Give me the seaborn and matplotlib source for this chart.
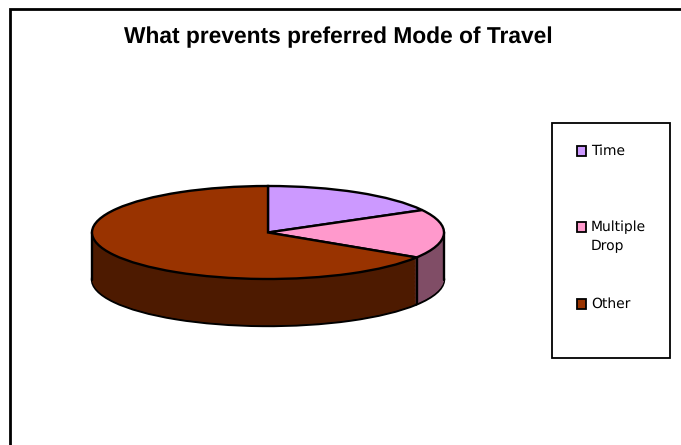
import matplotlib
matplotlib.use("Agg")
import matplotlib.pyplot as plt
from matplotlib.patches import Rectangle
import numpy as np
import seaborn as sns

title = "What prevents preferred Mode of Travel"
categories = ["Time", "Multiple\nDrop", "Other"]
values = [17, 17, 66]
top_colors = ["#CC99FF", "#FF99CC", "#993300"]
side_colors = ["#664D80", "#804D66", "#4D1A00"]
legend_y = [151, 227, 304]

sns.set_theme(style="white")
plt.rcParams["text.hinting"] = "none"
W, H = 681, 445
fig = plt.figure(figsize=(W / 100, H / 100), dpi=100, facecolor="white")

# Pie axes: x in pixels, y stretched so that the circular pie flattens into an ellipse
cx, cy, rx, ry, depth = 268, 232.5, 176, 46.5, 47
k = rx / ry
ax = fig.add_axes([0, 0, 1, 1])
ax.set_axis_off()
C = (cx, (H - cy) * k)
D = depth * k
edge = dict(edgecolor="black", linewidth=1.7)

# Bottom rim with outline, then the solid body, then the top face
ax.pie(values, colors=sns.color_palette(side_colors), startangle=90, counterclock=False,
       radius=rx, center=(C[0], C[1] - D), wedgeprops=edge, frame=False)
for off in np.linspace(D, 0, 60)[1:-1]:
    ax.pie(values, colors=sns.color_palette(side_colors), startangle=90, counterclock=False,
           radius=rx, center=(C[0], C[1] - off), wedgeprops=dict(linewidth=0), frame=False)

# Vertical edges of the cylinder and of the slice boundary visible on the wall
bound = np.deg2rad(90 - 360 * np.cumsum(values)[1] / sum(values))
for x, y in [(cx - rx, C[1]), (cx + rx, C[1]),
             (cx + rx * np.cos(bound), C[1] + rx * np.sin(bound))]:
    ax.plot([x, x], [y, y - D], color="black", lw=1.7, solid_capstyle="round", zorder=5)

ax.pie(values, colors=sns.color_palette(top_colors), startangle=90, counterclock=False,
       radius=rx, center=C, wedgeprops=dict(zorder=6, **edge), frame=False)
ax.set_aspect("auto")
ax.set_xlim(0, W)
ax.set_ylim(0, H * k)

# Overlay in pixel coordinates for frame, title and legend
ov = fig.add_axes([0, 0, 1, 1], facecolor="none")
ov.set_axis_off()
ov.set_xlim(0, W)
ov.set_ylim(H, 0)
ov.plot([10, 10, W], [H, 8.5, 8.5], color="black", lw=2.0, solid_joinstyle="miter")
ov.text(338, 37, title, ha="center", va="center", fontsize=16.4, fontweight="bold",
        family="Liberation Sans", color="black")
ov.add_patch(Rectangle((552, 123), 118, 235, fc="white", ec="black", lw=1.3))
for lab, col, y in zip(categories, top_colors, legend_y):
    ov.add_patch(Rectangle((576.5, y - 5), 9.5, 10, fc=col, ec="black", lw=1.3))
    ov.text(591, y - 7, lab, ha="left", va="top", fontsize=10, family="DejaVu Sans",
            color="black", linespacing=1.55)

fig.savefig("out.png", dpi=100, facecolor="white")
